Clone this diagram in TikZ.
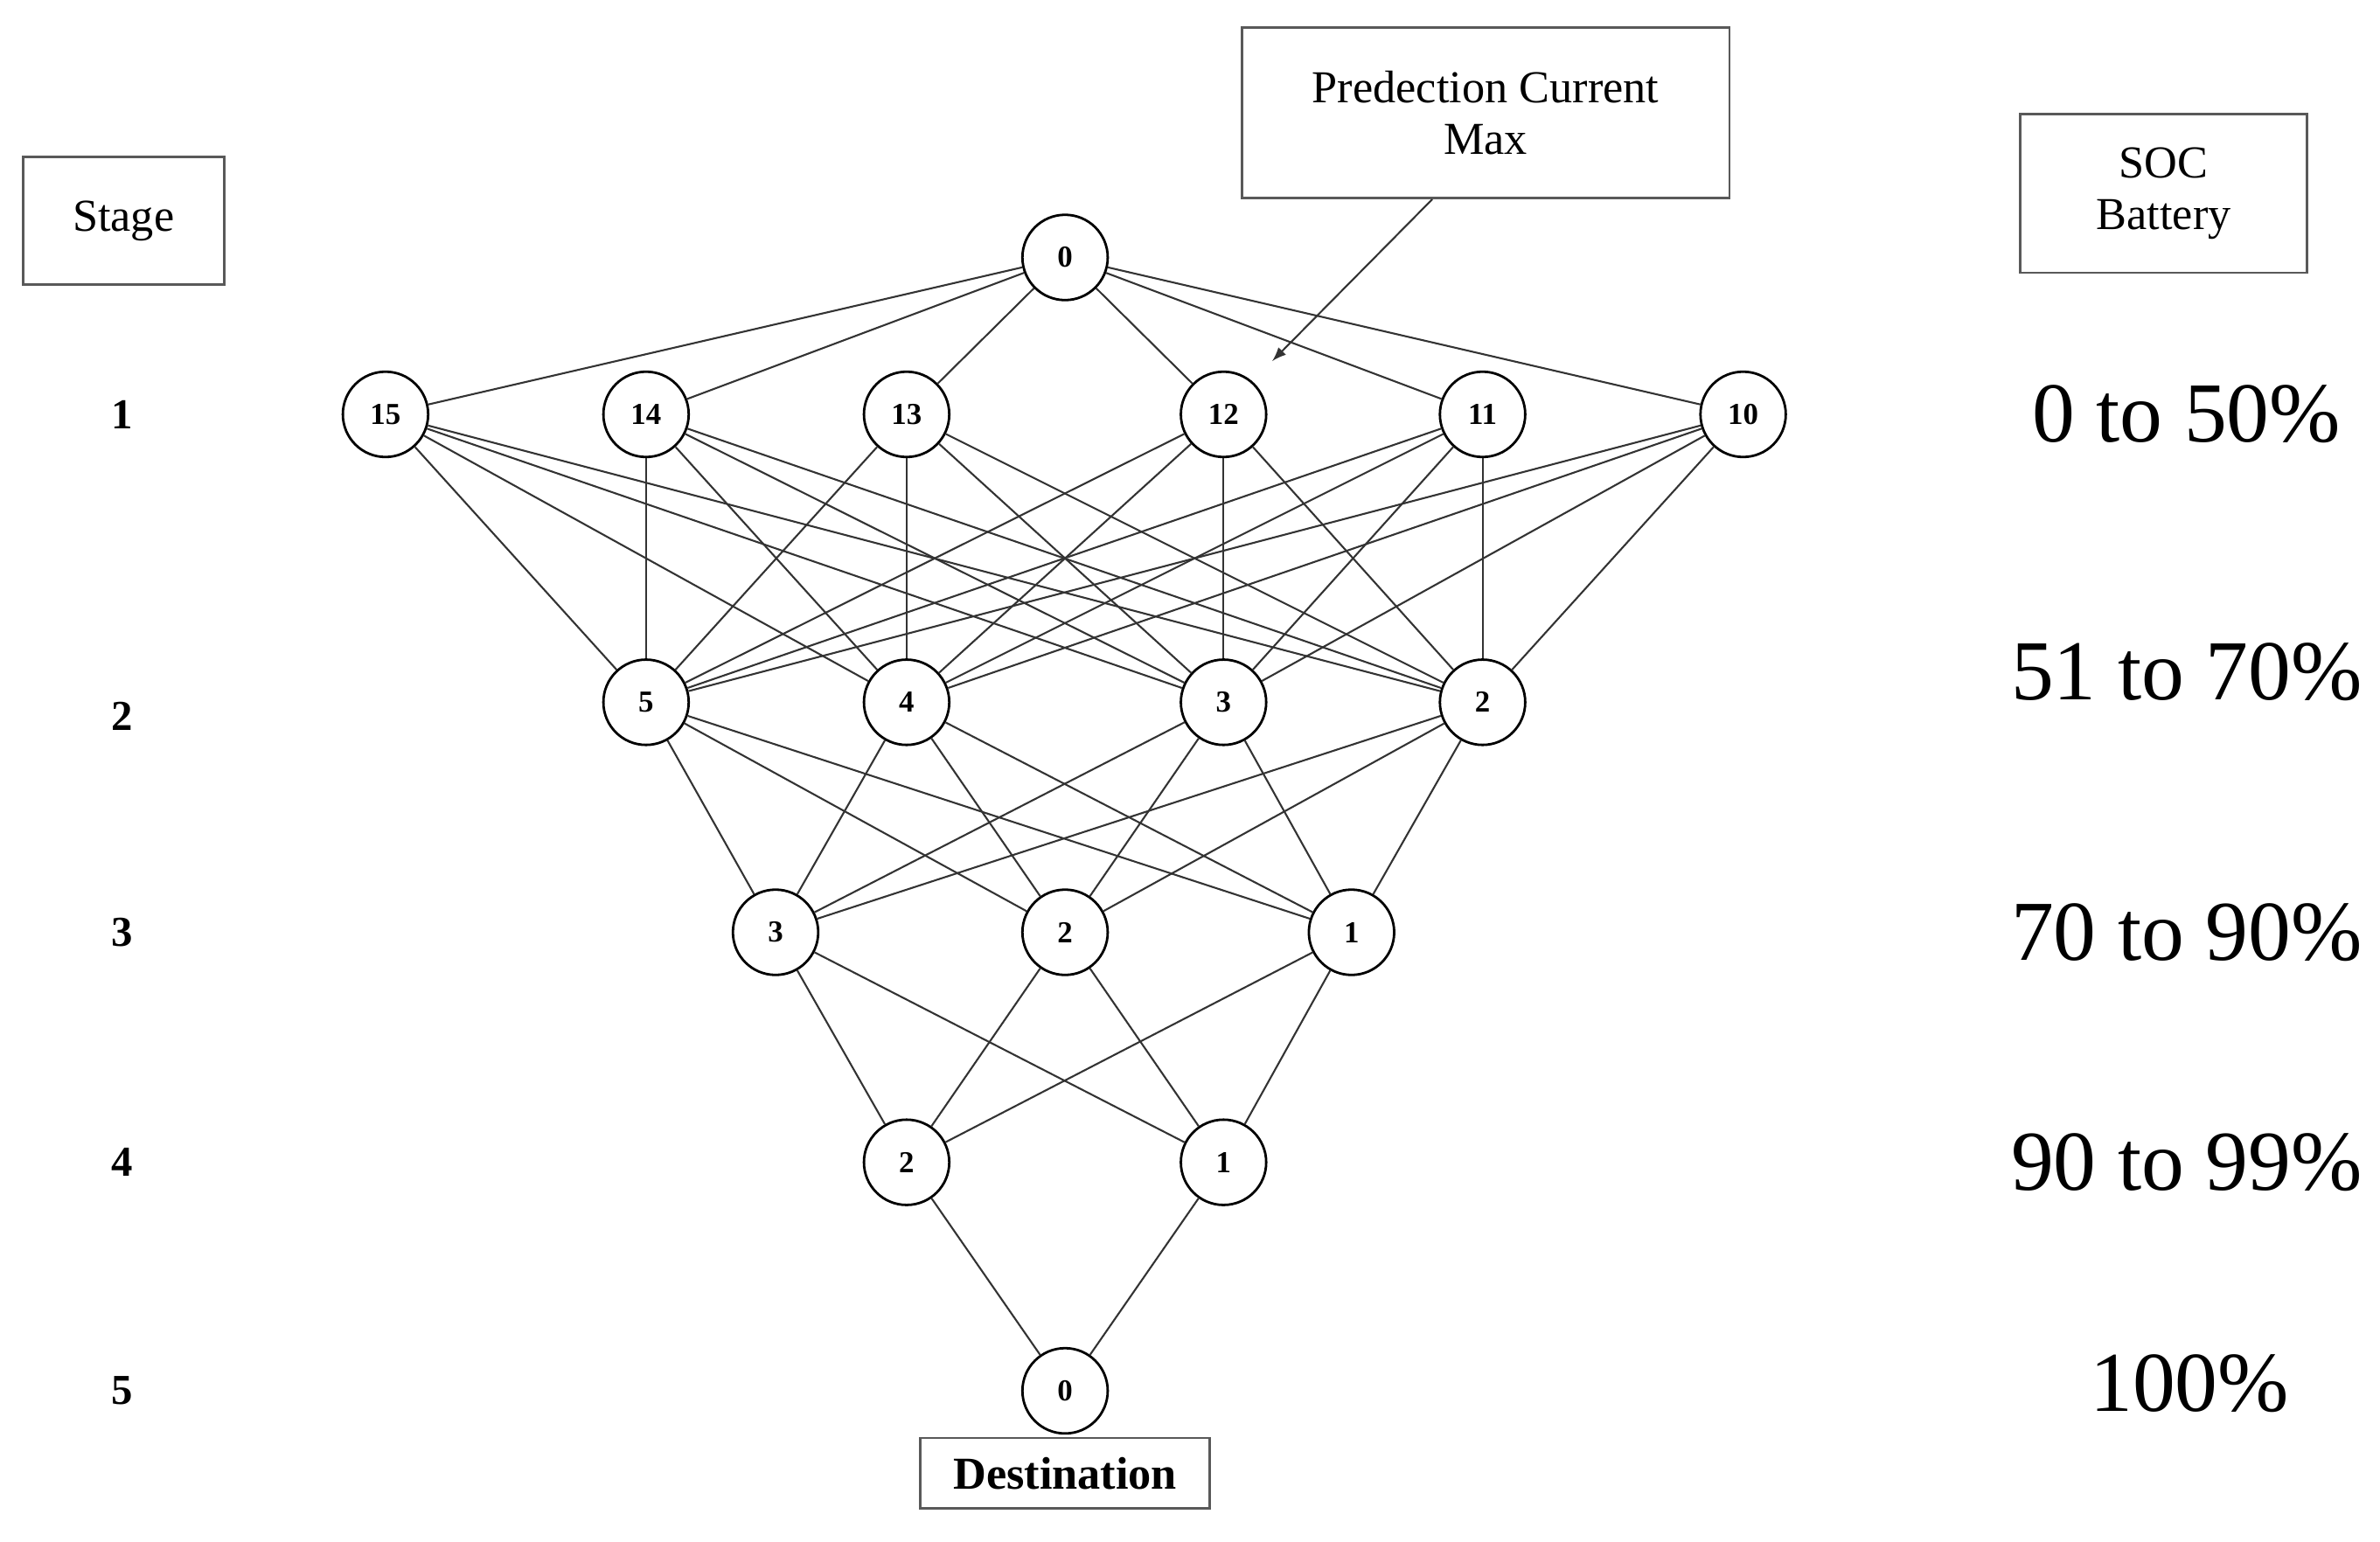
\documentclass[tikz,border=0pt]{standalone}
\usepackage{fontspec}
\setmainfont{Liberation Serif}
\begin{document}
\begin{tikzpicture}[x=0.5pt,y=-0.5pt,
 n/.style={circle,draw,thick,minimum size=28pt,inner sep=0pt,font=\fontsize{10}{10}\selectfont\bfseries},
 bx/.style={draw,thick,gray!70!black,text=black,align=center,font=\fontsize{15}{17}\selectfont},
 st/.style={font=\fontsize{14}{14}\selectfont\bfseries},
 pc/.style={font=\fontsize{28}{28}\selectfont},
 e/.style={gray!40!black,line width=0.6pt}]
\useasboundingbox (0,0) rectangle (1562,1012);
\node[n] (t) at (699,169) {0};
\foreach \l/\x in {15/253,14/424,13/595,12/803,11/973,10/1144}{\node[n] (a\l) at (\x,272) {\l};}
\foreach \l/\x in {5/424,4/595,3/803,2/973}{\node[n] (b\l) at (\x,461) {\l};}
\foreach \l/\x in {3/509,2/699,1/887}{\node[n] (c\l) at (\x,612) {\l};}
\foreach \l/\x in {2/595,1/803}{\node[n] (d\l) at (\x,763) {\l};}
\node[n] (z) at (699,913) {0};
\foreach \i in {15,14,13,12,11,10}{
  \draw[e] (t) -- (a\i);
  \foreach \j in {5,4,3,2}{\draw[e] (a\i) -- (b\j);}}
\foreach \i in {5,4,3,2}{\foreach \j in {3,2,1}{\draw[e] (b\i) -- (c\j);}}
\foreach \i in {3,2,1}{\foreach \j in {2,1}{\draw[e] (c\i) -- (d\j);}}
\foreach \i in {2,1}{\draw[e] (d\i) -- (z);}
\node[bx,minimum width=95pt,minimum height=23pt,font=\fontsize{15}{17}\selectfont\bfseries] (dest) at (699,967) {Destination};
\node[bx,minimum width=66pt,minimum height=42pt] (stage) at (81,145) {Stage};
\node[bx,minimum width=160pt,minimum height=56pt] (pred) at (975,74) {Predection Current\\Max};
\node[bx,minimum width=94pt,minimum height=52pt] (soc) at (1420,127) {SOC\\Battery};
\coordinate (ar) at (835,237);
\draw[e,-latex] (pred.south) ++(-35,0) -- (ar);
\foreach \s/\y in {1/272,2/470,3/612,4/763,5/913}{\node[st] (s\s) at (80,\y) {\s};}
\node[pc] (p1) at (1435,272) {0 to 50\%};
\node[pc] (p2) at (1435,441) {51 to 70\%};
\node[pc] (p3) at (1435,612) {70 to 90\%};
\node[pc] (p4) at (1435,763) {90 to 99\%};
\node[pc] (p5) at (1437,908) {100\%};
\end{tikzpicture}
\end{document}
